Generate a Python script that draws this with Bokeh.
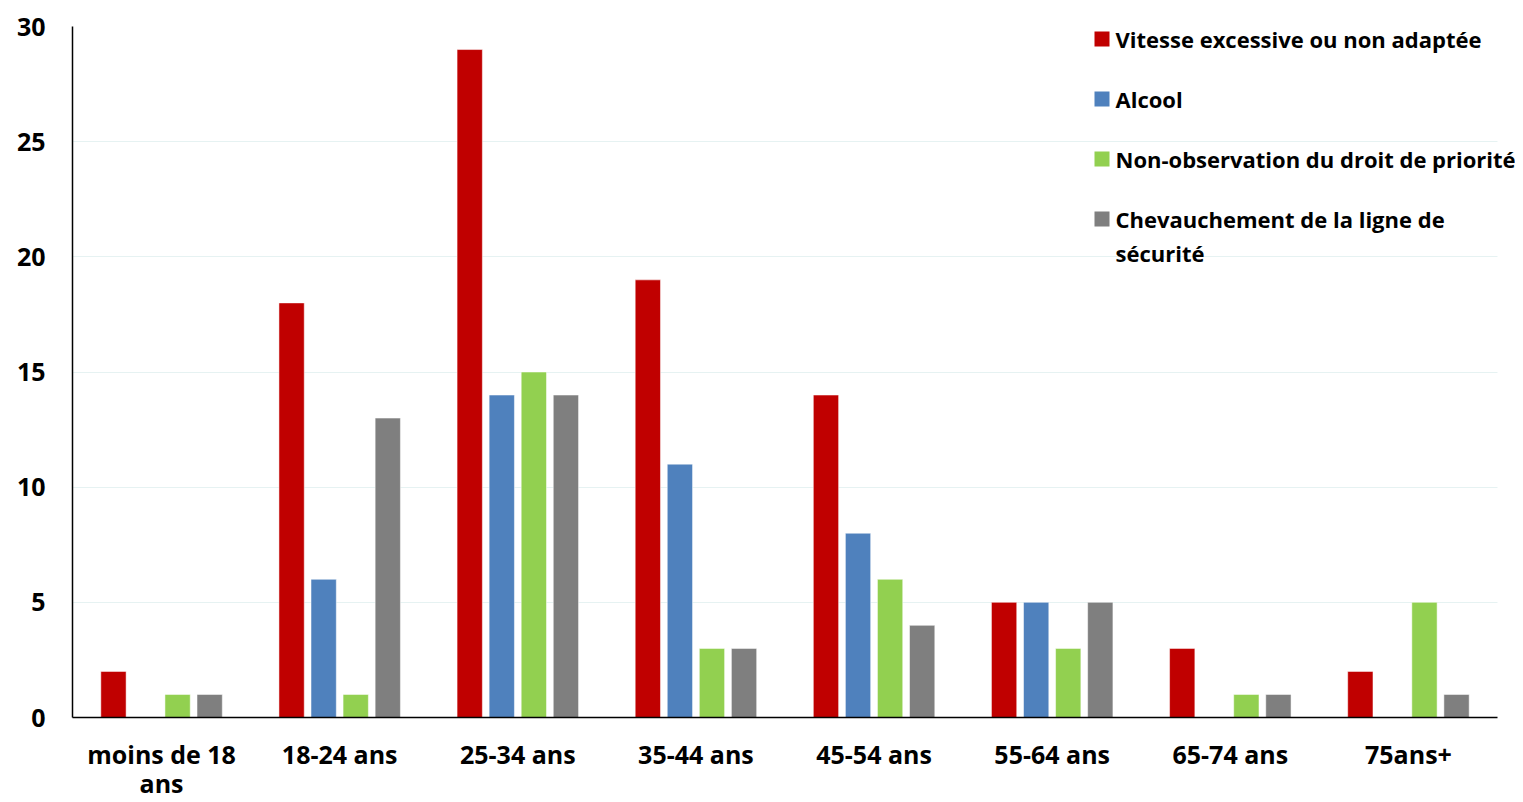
from bokeh.plotting import figure
from bokeh.models import (Range1d, ColumnDataSource, Label, BoxAnnotation, LinearAxis,
                          FixedTicker, CustomJSTickFormatter)
from bokeh.transform import dodge
from bokeh.embed import file_html
from bokeh.resources import INLINE

categories = ["moins de 18\nans", "18-24 ans", "25-34 ans", "35-44 ans",
              "45-54 ans", "55-64 ans", "65-74 ans", "75ans+"]
vitesse = [2, 18, 29, 19, 14, 5, 3, 2]
alcool = [0, 6, 14, 11, 8, 5, 0, 0]
priorite = [1, 1, 15, 3, 6, 3, 1, 5]
chevauchement = [1, 13, 14, 3, 4, 5, 1, 1]
series_names = ["Vitesse excessive ou non adaptée", "Alcool",
                "Non-observation du droit de priorité",
                "Chevauchement de la ligne de\nsécurité"]
colors = ["#C00000", "#4F81BD", "#92D050", "#7F7F7F"]
y_ticks = [0, 5, 10, 15, 20, 25, 30]

n = len(categories)
idx = [i + 0.5 for i in range(n)]  # category centres on a numeric scale
src = ColumnDataSource(dict(x=idx, v=vitesse, a=alcool, p=priorite, c=chevauchement))

FONT = "Open Sans"
W, H = 1515, 802
LEFT, TOP, FRAME_RIGHT_AXIS, FRAME_BOTTOM = 72, 26, 1497, 718
x_end = n * (W - LEFT) / (FRAME_RIGHT_AXIS - LEFT)  # frame runs on past the last group for the legend text

p = figure(x_range=Range1d(0, x_end), y_range=Range1d(0, 30),
           width=W, height=H, output_backend="svg", toolbar_location=None,
           min_border_left=LEFT, min_border_right=0, min_border_top=TOP,
           min_border_bottom=H - FRAME_BOTTOM, x_axis_location=None)
p.outline_line_color = None

offsets = [-0.27, -0.09, 0.09, 0.27]
for key, off, col in zip(["v", "a", "p", "c"], offsets, colors):
    p.vbar(x=dodge("x", off), top=key, width=0.142, bottom=0,
           source=src, fill_color=col, line_color="white", line_alpha=0.5, line_width=1)

p.xgrid.grid_line_color = None
p.ygrid.grid_line_color = "#E6F2F2"
p.ygrid.ticker = y_ticks
try:
    p.ygrid[0].cross_bounds = (0, n)
except Exception:
    pass
p.yaxis.ticker = y_ticks

def line_formatter(k):
    return CustomJSTickFormatter(args=dict(labels=categories, k=k), code="""
        const parts = (labels[Math.floor(tick)] || '').split('\\n');
        return k < parts.length ? parts[k] : '';
    """)

xa1 = LinearAxis(ticker=FixedTicker(ticks=idx), formatter=line_formatter(0),
                 major_label_standoff=19)
xa2 = LinearAxis(ticker=FixedTicker(ticks=idx), formatter=line_formatter(1),
                 major_label_standoff=-8, axis_line_color=None)
p.add_layout(xa1, "below")
p.add_layout(xa2, "below")

for ax in (xa1, xa2, p.yaxis[0]):
    ax.axis_line_width = 1.5
    ax.major_tick_line_color = None
    ax.minor_tick_line_color = None
    ax.major_tick_out = 0
    ax.major_tick_in = 0
    ax.major_label_text_font = FONT
    ax.major_label_text_font_style = "bold"
    ax.major_label_text_font_size = "25px"
    ax.major_label_text_color = "black"
xa1.axis_line_color = "black"
xa1.bounds = (0, n)
p.yaxis.axis_line_color = "black"
p.yaxis.major_label_standoff = 27

# legend drawn as annotations
LEG_X, LEG_TOP, LEG_STEP, SQ, LINE = 1094, 32, 60, 15, 34
for i, (name, col) in enumerate(zip(series_names, colors)):
    top = LEG_TOP + LEG_STEP * i
    p.add_layout(BoxAnnotation(left=LEG_X - LEFT, right=LEG_X - LEFT + SQ,
                               top=FRAME_BOTTOM - top, bottom=FRAME_BOTTOM - top - SQ,
                               left_units="screen", right_units="screen",
                               top_units="screen", bottom_units="screen",
                               fill_color=col, fill_alpha=1, line_color=None))
    for k, line in enumerate(name.split("\n")):
        p.add_layout(Label(x=LEG_X - LEFT + 21, y=FRAME_BOTTOM - (top + SQ / 2 + LINE * k),
                           x_units="screen", y_units="screen", text=line,
                           text_align="left", text_baseline="middle", text_font=FONT,
                           text_font_style="bold", text_font_size="22px", text_color="black"))

open("out.html", "w").write(file_html(p, INLINE))
